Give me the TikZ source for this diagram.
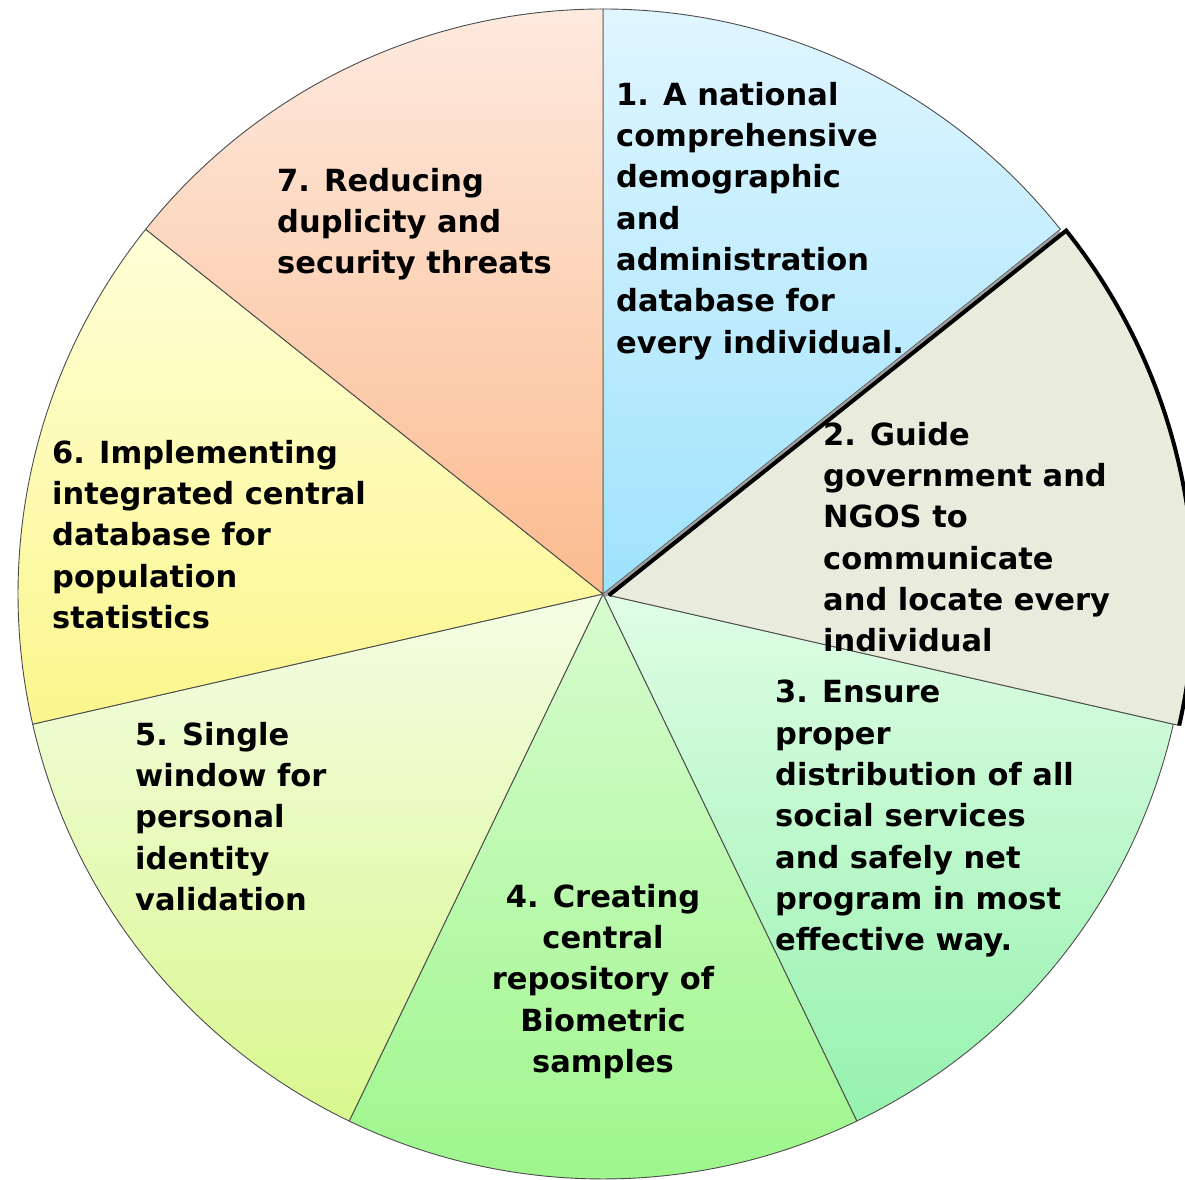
\documentclass[tikz,border=0pt]{standalone}
\usepackage{fontspec}
\setmainfont{DejaVu Sans}
\definecolor{bTop}{HTML}{E0F6FF}\definecolor{bBot}{HTML}{9EE2FC}
\definecolor{gFill}{HTML}{E9ECDD}
\definecolor{mTop}{HTML}{E0FDE6}\definecolor{mBot}{HTML}{95F2AE}
\definecolor{lTop}{HTML}{D8FCCF}\definecolor{lBot}{HTML}{9CF68A}
\definecolor{yTop}{HTML}{F4FDE4}\definecolor{yBot}{HTML}{D9F88E}
\definecolor{sTop}{HTML}{FFFFD8}\definecolor{sBot}{HTML}{FBF68C}
\definecolor{pTop}{HTML}{FEEADF}\definecolor{pBot}{HTML}{FBBB8F}
\begin{document}
\begin{tikzpicture}[x=1pt,y=1pt,
  seg/.style={draw=black!70, line width=0.9pt, line join=round},
  lbl/.style={font=\bfseries\fontsize{30.5}{41.3}\selectfont, inner sep=0pt, align=left, anchor=north west, text=black}]
\useasboundingbox (0,0) rectangle (1185,1179);
\fill[white] (0,0) rectangle (1185,1179);
\begin{scope}
\clip (0,0) rectangle (1185,1179);
\coordinate (C) at (603,585);
% segment 1
\shade[seg, top color=bTop, bottom color=bBot] (C) -- ++(90:585) arc[start angle=90, end angle=38.571, radius=585pt] -- cycle;
% segment 3
\shade[seg, top color=mTop, bottom color=mBot] (C) -- ++(-12.857:585) arc[start angle=-12.857, end angle=-64.286, radius=585pt] -- cycle;
% segment 4
\shade[seg, top color=lTop, bottom color=lBot] (C) -- ++(-64.286:585) arc[start angle=-64.286, end angle=-115.714, radius=585pt] -- cycle;
% segment 5
\shade[seg, top color=yTop, bottom color=yBot] (C) -- ++(-115.714:585) arc[start angle=-115.714, end angle=-167.143, radius=585pt] -- cycle;
% segment 6
\shade[seg, top color=sTop, bottom color=sBot] (C) -- ++(192.857:585) arc[start angle=192.857, end angle=141.429, radius=585pt] -- cycle;
% segment 7
\shade[seg, top color=pTop, bottom color=pBot] (C) -- ++(141.429:585) arc[start angle=141.429, end angle=90, radius=585pt] -- cycle;
% shadow strip along segment 1 edge
\draw[line width=3.5pt, black!38] ([shift={(-51.43:2)}]C) -- ++(38.571:583);
% segment 2 (exploded)
\begin{scope}[shift={(-12.857:6)}]
\coordinate (C2) at (603,585);
\fill[gFill] (C2) -- ++(38.571:585) arc[start angle=38.571, end angle=-12.857, radius=585pt] -- cycle;
\draw[black!70, line width=0.9pt] (C2) -- ++(-12.857:585);
\draw[black, line width=4pt, line join=miter] (C2) -- ++(38.571:585) arc[start angle=38.571, end angle=-12.857, radius=585pt];
\end{scope}
\end{scope}
% labels
\node[lbl] (t1) at (616,1097) {1. A national\\comprehensive\\demographic\\and\\administration\\database for\\every individual.};
\node[lbl] (t2) at (823,757) {2. Guide\\government and\\NGOS to\\communicate\\and locate every\\individual};
\node[lbl] (t3) at (775,499) {3. Ensure\\proper\\distribution of all\\social services\\and safely net\\program in most\\effective way.};
\node[lbl, align=center, anchor=north] (t4) at (603,295) {4. Creating\\central\\repository of\\Biometric\\samples};
\node[lbl] (t5) at (135,457) {5. Single\\window for\\personal\\identity\\validation};
\node[lbl] (t6) at (52,739) {6. Implementing\\integrated central\\database for\\population\\statistics};
\node[lbl] (t7) at (277,1011) {7. Reducing\\duplicity and\\security threats};
\end{tikzpicture}
\end{document}
